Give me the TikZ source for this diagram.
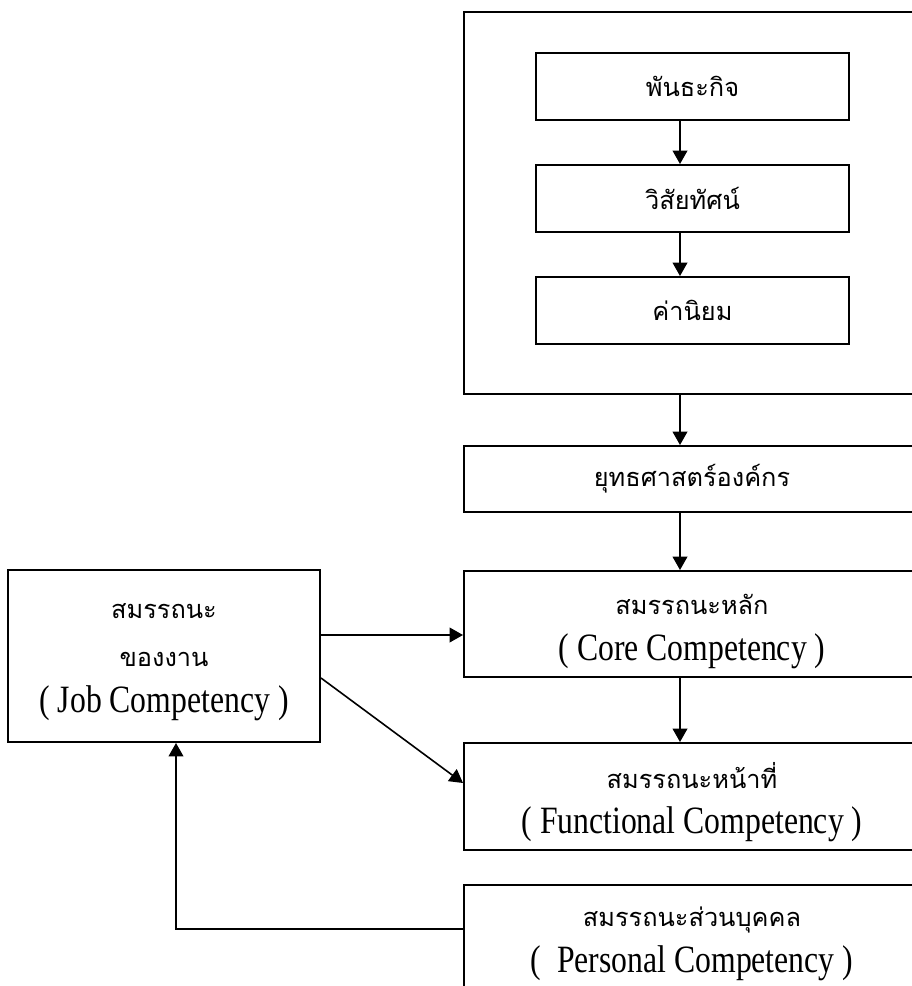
\documentclass[tikz,border=0pt]{standalone}
\usepackage{fontspec}
\setmainfont{Liberation Serif}[FakeStretch=0.82]
\newfontfamily\thaifont[Script=Thai]{Loma}
\usepackage{tikz}
\usetikzlibrary{arrows.meta, positioning}
\newcommand{\thaitxt}[1]{{\thaifont\fontsize{19}{34}\selectfont #1}}

\begin{document}
\begin{tikzpicture}[
    x=0.75pt, y=-0.75pt,
    every node/.style = {font=\fontsize{29}{34}\selectfont},
    framebox/.style = {
        rectangle, draw=black, line width=1.5pt,
        inner sep=0pt, align=center
    },
    stagebox/.style = {
        framebox,
        minimum width=234.75pt, minimum height=50.25pt
    },
    widebox/.style = {
        framebox, minimum width=342pt
    },
    lowtext/.style = {text height=#1, text depth=0pt},
    arr/.style = {-{Triangle[length=10pt, width=11pt]}, black, line width=1.2pt},
]
\useasboundingbox (0,0) rectangle (912,986);
\clip (0,0) rectangle (912,986);

% Top: organisation frame
\node[framebox, minimum width=342pt, minimum height=286.5pt] (frame) at (692,203) {};
\node[stagebox] (mission) at (692.5,86.5)  {\thaitxt{พันธะกิจ}};
\node[stagebox] (vision)  at (692.5,198.5) {\thaitxt{วิสัยทัศน์}};
\node[stagebox] (values)  at (692.5,310.5) {\thaitxt{ค่านิยม}};

% Right column
\node[widebox, minimum height=49.5pt] (strategy) at (692,479) {\thaitxt{ยุทธศาสตร์องค์กร}};
\node[widebox, minimum height=79.5pt, lowtext=54pt] (core) at (692,624)
    {\thaitxt{สมรรถนะหลัก}\\( Core Competency )};
\node[widebox, minimum height=80.25pt, lowtext=56pt] (functional) at (692,796.5)
    {\thaitxt{สมรรถนะหน้าที่}\\( Functional Competency )};
\node[widebox, minimum height=91.5pt, lowtext=39pt] (personal) at (692,946)
    {\thaitxt{สมรรถนะส่วนบุคคล}\\(\ \ Personal Competency )};

% Left: job competency
\node[framebox, minimum width=234pt, minimum height=129pt, lowtext=84pt] (job) at (164,656)
    {\thaitxt{สมรรถนะ}\\[2pt]\thaitxt{ของงาน}\\( Job Competency )};

% Helper coordinates
\coordinate (axis) at (680,0);
\coordinate (jobcore) at (0,635);
\coordinate (diagfrom) at (0,678);
\coordinate (diagto) at (0,783);
\coordinate (back) at (176,929);

% Arrows
\draw[arr] (mission.south -| axis)    -- (vision.north -| axis);
\draw[arr] (vision.south -| axis)     -- (values.north -| axis);
\draw[arr] (frame.south -| axis)      -- (strategy.north -| axis);
\draw[arr] (strategy.south -| axis)   -- (core.north -| axis);
\draw[arr] (core.south -| axis)       -- (functional.north -| axis);
\draw[arr] (job.east |- jobcore)      -- (core.west |- jobcore);
\draw[arr] (job.east |- diagfrom)     -- (functional.west |- diagto);
\draw[arr] (personal.west |- back)    -| (job.south -| back);

\end{tikzpicture}
\end{document}
